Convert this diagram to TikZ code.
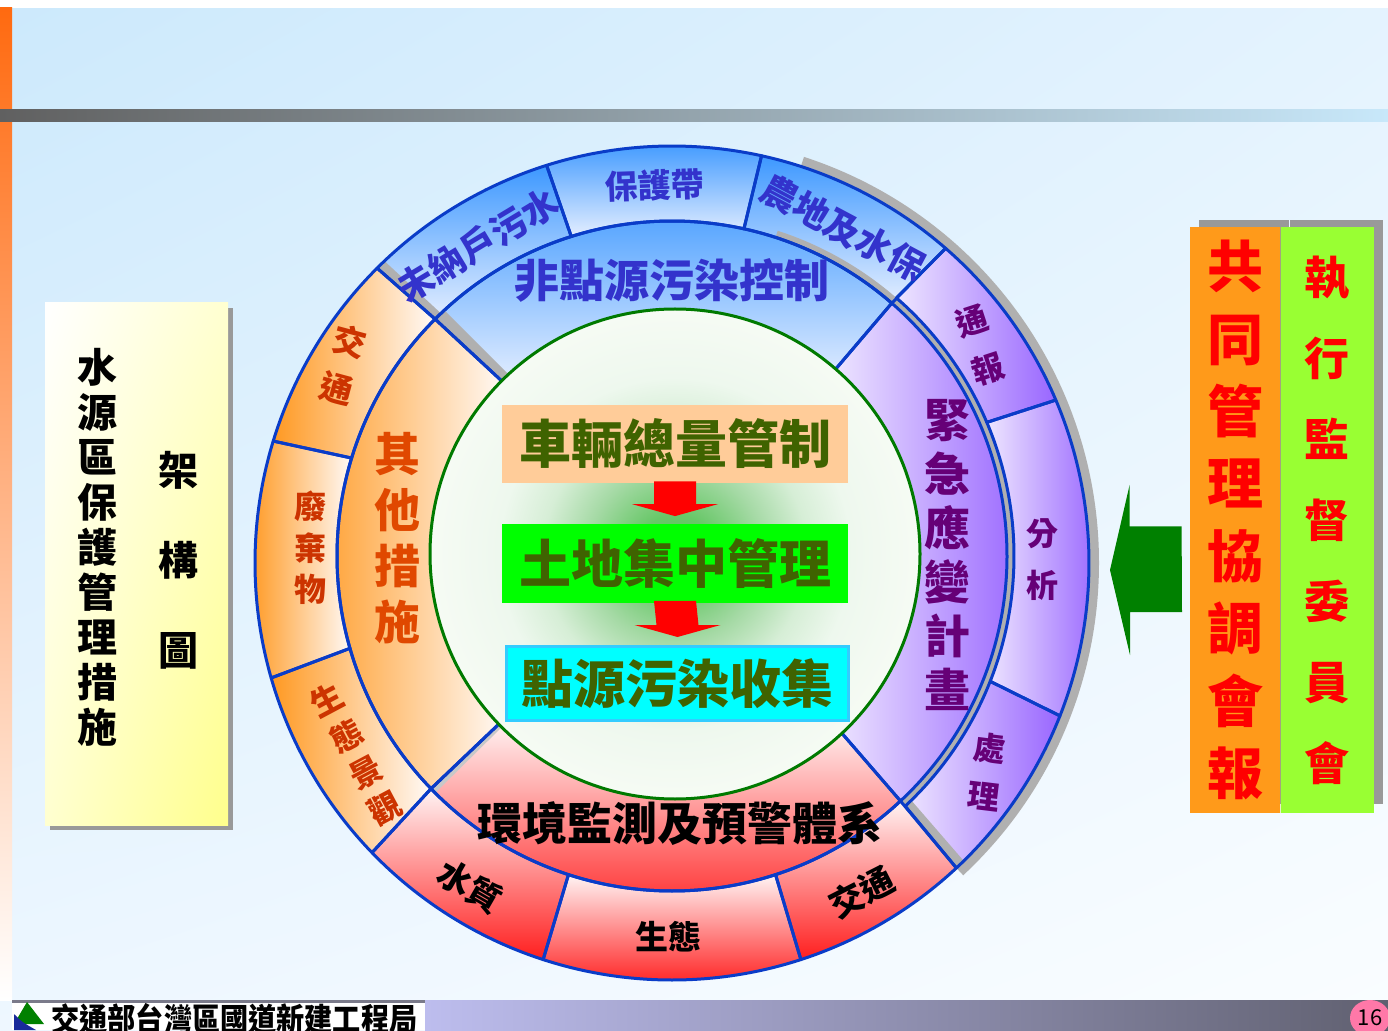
\documentclass[tikz,border=0pt]{standalone}
\usepackage{fontspec}
\setmainfont{Noto Sans CJK TC}
\usetikzlibrary{calc}
\usetikzlibrary{positioning}
\usetikzlibrary{shapes.geometric}
\usetikzlibrary{shadows}
\usetikzlibrary{shadings}

\definecolor{bgtl}{HTML}{CCE9FC}
\definecolor{bgtr}{HTML}{E4F3FE}
\definecolor{bgbl}{HTML}{EEF7FF}
\definecolor{bgbr}{HTML}{FAFDFF}
\definecolor{barorange}{HTML}{FF6A10}
\definecolor{barmid}{HTML}{FF9A70}
\definecolor{bardark}{HTML}{606060}
\definecolor{barmidgray}{HTML}{A4B8C8}
\definecolor{barlight}{HTML}{C8E8FA}
\definecolor{footlav}{HTML}{BDBDEE}
\definecolor{footlav2}{HTML}{C8C8F8}
\definecolor{footdark}{HTML}{606070}
\definecolor{footgray}{HTML}{7A7A8A}
\definecolor{pagepink}{HTML}{FF78A8}
\definecolor{segblue}{HTML}{0A3CC8}
\definecolor{topblue}{HTML}{3D98FF}
\definecolor{topwhite}{HTML}{E4EEFF}
\definecolor{purpdark}{HTML}{9966FF}
\definecolor{purplight}{HTML}{EEE6FF}
\definecolor{redbot}{HTML}{FF1E1E}
\definecolor{redtop}{HTML}{FFF4F4}
\definecolor{orangeleft}{HTML}{FF9922}
\definecolor{orangeright}{HTML}{FFFAF7}
\definecolor{bluetext}{HTML}{3333CC}
\definecolor{purptext}{HTML}{660077}
\definecolor{orangetext}{HTML}{CC3300}
\definecolor{othertext}{HTML}{E04800}
\definecolor{olivetext}{HTML}{3F6300}
\definecolor{peach}{HTML}{FFCC99}
\definecolor{limegreen}{HTML}{00FF00}
\definecolor{cyanfill}{HTML}{00FFFF}
\definecolor{cyanedge}{HTML}{33CCFF}
\definecolor{shadowgray}{HTML}{B0B0B0}
\definecolor{boxshadow}{HTML}{999999}
\definecolor{ringgreen}{HTML}{007A00}
\definecolor{arrowgreen}{HTML}{008000}
\definecolor{logoblue}{HTML}{1A2A9A}
\definecolor{jointorange}{HTML}{FF9A1A}
\definecolor{jointwhite}{HTML}{FFF2EA}
\definecolor{execgreen}{HTML}{99FF33}
\definecolor{execwhite}{HTML}{F2FFEA}
\definecolor{titleyl}{HTML}{FFFFD0}
\definecolor{titley}{HTML}{FFFF8C}
\definecolor{glowa}{HTML}{5EC25E}
\definecolor{glowb}{HTML}{68C768}
\definecolor{glowc}{HTML}{A6DAA6}
\definecolor{glowd}{HTML}{D6EED6}
\definecolor{glowe}{HTML}{EEF8EE}
\definecolor{glowf}{HTML}{F6FBF4}

\pgfdeclareradialshading{innerglow}{\pgfpoint{0bp}{0bp}}{color(0bp)=(glowa); color(4bp)=(glowb); color(9bp)=(glowc); color(13.5bp)=(glowd); color(18bp)=(glowe); color(25bp)=(glowf); color(50bp)=(glowf)}

% ring pieces: outer ring (start, end, inner radius) and middle ring (start, end)
\newcommand\outerpath[3]{($(co)+(#1:417)$) arc[start angle=#1, end angle=#2, radius=417] -- ($(cm)+(#2:#3)$) arc[start angle=#2, end angle=#1, radius=#3] -- cycle}
\newcommand\midpath[2]{($(cm)+(#1:335)$) arc[start angle=#1, end angle=#2, radius=335] -- ($(ci)+(#2:240)$) arc[start angle=#2, end angle=#1, radius=240] -- cycle}
\newcommand\blockdown[2]{\fill[red] ($(#1.south)+(-21,2)$) -- ($(#2.north)+(-21,20)$) -- ($(#2.north)+(-43,20)$) -- ($(#2.north)+(0,8)$) -- ($(#2.north)+(43,20)$) -- ($(#2.north)+(21,20)$) -- ($(#1.south)+(21,2)$) -- cycle;}

\begin{document}
\begin{tikzpicture}[x=0.5pt, y=0.5pt]
  \tikzset{every node/.style={inner sep=0pt, align=center, font=\bfseries},
           topseg/.style={top color=topblue, bottom color=topwhite},
           rightseg/.style={left color=purplight, right color=purpdark},
           botseg/.style={top color=redtop, bottom color=redbot},
           leftseg/.style={left color=orangeleft, right color=orangeright},
           segline/.style={draw=segblue, line width=1.5pt, line join=round},
           innerbox/.style={minimum width=173pt, minimum height=39pt, text=olivetext,
                            font=\bfseries\fontsize{26}{26}\selectfont},
           sidebox/.style={minimum height=292pt, text=red},
           fs/.style n args={2}{font=\bfseries\fontsize{#1}{#2}\selectfont}}
  \useasboundingbox (0,0) rectangle (1388,1030);

  % page background
  \shade[upper left=bgtl, upper right=bgtr, lower left=bgbl, lower right=bgbr] (0,0) rectangle (1388,1030);
  \fill[white] (0,1022) rectangle (1388,1030);
  \shade[top color=barorange, middle color=barmid, bottom color=white] (0,30) rectangle (12,1022);
  \shade[left color=bardark, middle color=barmidgray, right color=barlight] (0,908) rectangle (1388,920);

  % ring centres
  \coordinate (co) at (672,467);
  \coordinate (cm) at (672,474);
  \coordinate (ci) at (675,476);

  % shadow outside the ring
  \fill[shadowgray] ($(co)+(-47:427)$) arc[start angle=-47, end angle=72, radius=427] -- ($(co)+(72:415)$) arc[start angle=72, end angle=-47, radius=415] -- cycle;

  % outer ring
  \shade[leftseg] \outerpath{135}{163}{335};
  \shade[leftseg] \outerpath{163}{196}{335};
  \shade[leftseg] \outerpath{196}{224}{335};
  \shade[botseg] \outerpath{224}{252}{335};
  \shade[botseg] \outerpath{252}{288}{335};
  \shade[botseg] \outerpath{288}{313}{335};
  \shade[rightseg] \outerpath{-47}{-21.5}{342};
  \shade[rightseg] \outerpath{-21.5}{23}{342};
  \shade[rightseg] \outerpath{23}{49}{342};
  \shade[topseg] \outerpath{49}{77.6}{335};
  \shade[topseg] \outerpath{77.6}{107.5}{335};
  \shade[topseg] \outerpath{107.5}{135}{335};

  % middle ring
  \shade[topseg] \midpath{49}{135};
  \shade[leftseg] \midpath{135}{224};
  \shade[botseg] \midpath{224}{313};
  \shade[rightseg] \midpath{-47}{49};

  % shadows between the pieces
  \fill[shadowgray] ($(cm)+(-47:342)$) arc[start angle=-47, end angle=72, radius=342] -- ($(cm)+(72:335)$) arc[start angle=72, end angle=-47, radius=335] -- cycle;
  \fill[shadowgray] \outerpath{133.6}{135}{335};
  \fill[shadowgray] \midpath{132.8}{135};
  \fill[shadowgray] \outerpath{-47}{-45.6}{342};
  \fill[shadowgray!70] \midpath{224}{225};

  % outlines
  \draw[segline] \outerpath{135}{163}{335};
  \draw[segline] \outerpath{163}{196}{335};
  \draw[segline] \outerpath{196}{224}{335};
  \draw[segline] \outerpath{224}{252}{335};
  \draw[segline] \outerpath{252}{288}{335};
  \draw[segline] \outerpath{288}{313}{335};
  \draw[segline] \outerpath{-47}{-21.5}{342};
  \draw[segline] \outerpath{-21.5}{23}{342};
  \draw[segline] \outerpath{23}{49}{342};
  \draw[segline] \outerpath{49}{77.6}{335};
  \draw[segline] \outerpath{77.6}{107.5}{335};
  \draw[segline] \outerpath{107.5}{135}{335};
  \draw[segline] \midpath{49}{135};
  \draw[segline] \midpath{135}{224};
  \draw[segline] \midpath{224}{313};
  \draw[segline] \midpath{-47}{49};

  % centre
  \node[circle, shade, shading=innerglow, draw=ringgreen, line width=1.5pt, minimum size=245pt] (hub) at (ci) {};
  \node[innerbox, fill=peach] (car) at (675,586) {車輛總量管制};
  \node[innerbox, fill=limegreen] (land) at (675,466.5) {土地集中管理};
  \node[innerbox, fill=cyanfill, draw=cyanedge, line width=1.5pt, minimum width=171pt, minimum height=37pt] (point) at (677.5,346.5) {點源污染收集};
  \blockdown{car}{land}
  \blockdown{land}{point}

  % middle ring labels
  \node[fs={22.5}{22.5}, text=bluetext] (nonpoint) at (672,750) {非點源污染控制};
  \node[fs={23}{27}, text=purptext] (emergency) at (947,475) {緊\\急\\應\\變\\計\\畫};
  \node[fs={22.5}{22.5}, text=black] (monitor) at (680,206) {環境監測及預警體系};
  \node[fs={23}{28}, text=othertext] (other) at (397,492) {其\\他\\措\\施};

  % outer ring labels
  \node[fs={18}{18}, text=bluetext, rotate=31] (sewage) at (478,785) {未納戶污水};
  \node[fs={16.5}{16.5}, text=bluetext, rotate=2] (buffer) at (655,845) {保護帶};
  \node[fs={18}{18}, text=bluetext, rotate=-28] (farm) at (843,802) {農地及水保};
  \node[fs={16}{25}, text=purptext, rotate=18] (notify) at (980,685) {通\\報};
  \node[fs={16}{26}, text=purptext] (analyse) at (1042,470) {分\\析};
  \node[fs={16}{24}, text=purptext, rotate=-7] (handle) at (987,258) {處\\理};
  \node[fs={17}{17}, text=black, rotate=-30] (quality) at (470,144) {水質};
  \node[fs={16.5}{16.5}, text=black] (ecology) at (668,93) {生態};
  \node[fs={17}{17}, text=black, rotate=27] (trafficb) at (862,138) {交通};
  \node[fs={16.5}{24.4}, text=orangetext, rotate=-15] (trafficl) at (343,665) {交\\通};
  \node[fs={16}{20.8}, text=orangetext] (waste) at (310,482) {廢\\棄\\物};
  \node[fs={16}{20.3}, text=orangetext, rotate=28] (scenery) at (356,276) {生\\態\\景\\觀};

  % title box
  \node[shade, upper left=white, upper right=titleyl, lower left=titleyl, lower right=titley,
        minimum width=91.5pt, minimum height=261pt,
        drop shadow={shadow xshift=2.5pt, shadow yshift=-2.5pt, fill=boxshadow, opacity=1}] (title) at (136.5,466) {};
  \node[fs={20}{22.5}] (titlea) at (97,483) {水\\源\\區\\保\\護\\管\\理\\措\\施};
  \node[fs={20}{45}] (titleb) at (178,470) {架\\構\\圖};

  % committees
  \node[sidebox, minimum width=45pt, top color=jointorange, middle color=jointwhite, bottom color=jointorange,
        drop shadow={shadow xshift=4.5pt, shadow yshift=4pt, fill=boxshadow, opacity=1},
        fs={28}{36.2}, text=red] (joint) at (1235,510) {共\\同\\管\\理\\協\\調\\會\\報};
  \node[sidebox, minimum width=46.5pt, top color=execgreen, middle color=execwhite, bottom color=execgreen,
        drop shadow={shadow xshift=4.5pt, shadow yshift=4pt, fill=boxshadow, opacity=1},
        fs={22.5}{40.5}, text=red, right=0pt of joint] (exec) {執\\行\\監\\督\\委\\員\\會};
  \coordinate (arrowtip) at (1110,460);
  \fill[arrowgreen] ($(joint.west |- arrowtip)+(-8,43.5)$) -- ++(-52,0) -- ++(0,41.5) -- (arrowtip)
        -- ++(20,-85) -- ++(0,43) -- ++(52,0) -- cycle;

  % footer
  \fill[footgray] (12,27) rectangle (425,30);
  \fill[white] (12,0) rectangle (425,27);
  \shade[left color=footlav, middle color=footlav2, right color=footdark] (425,0) rectangle (1388,30);
  \fill[arrowgreen] (14,6) -- (27,28) -- (44,6) -- cycle;
  \fill[logoblue] (14,0) -- (14,16) .. controls (22,8) .. (36,0) -- cycle;
  \node[anchor=west, fs={16}{16}] (agency) at (51,11) {\scalebox{0.88}[1]{交通部台灣區國道新建工程局}};
  \node[ellipse, fill=pagepink, minimum width=20pt, minimum height=18pt, font=\fontsize{11}{11}\selectfont] (pagenum) at (1370,12) {16};
\end{tikzpicture}
\end{document}
